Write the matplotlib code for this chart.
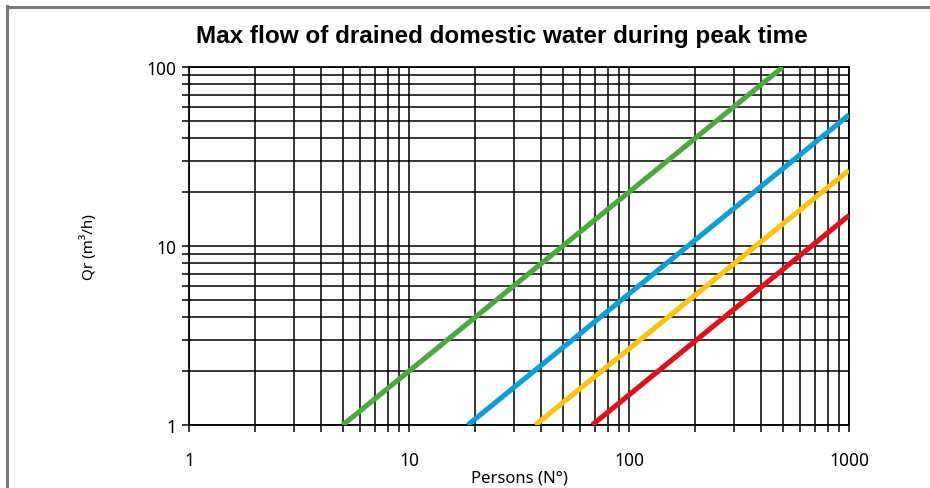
import matplotlib
matplotlib.use("Agg")
import matplotlib.pyplot as plt
from matplotlib.lines import Line2D
from matplotlib.ticker import LogLocator, NullFormatter, FixedLocator

# Line data (start/end points on the log-log grid)
series_names = ["green", "blue", "yellow", "red"]
persons_start = [5, 18.5, 37.5, 68]
persons_end = [500, 1000, 1000, 1000]
flow_start = [1, 1, 1, 1]
flow_end = [100, 54, 26.5, 14.8]
colors = ["#4aab3d", "#0aa0dc", "#ffc20e", "#e2101b"]

x_ticks = [1, 10, 100, 1000]
x_ticklabels = ["1", "10", "100", "1000"]
y_ticks = [1, 10, 100]
y_ticklabels = ["1", "10", "100"]

plt.rcParams['font.family'] = ['Noto Sans', 'DejaVu Sans']

fig = plt.figure(figsize=(9.3, 4.89), dpi=100)
ax = fig.add_axes([189 / 930, 1 - 426 / 489, 660 / 930, 358 / 489])

for i in range(len(series_names)):
    ax.plot([persons_start[i], persons_end[i]], [flow_start[i], flow_end[i]],
            color=colors[i], lw=3.7, solid_capstyle='butt', zorder=3)

ax.set_xscale('log')
ax.set_yscale('log')
ax.set_xlim(1, 1000)
ax.set_ylim(1, 100)

ax.xaxis.set_major_locator(FixedLocator(x_ticks))
ax.set_xticklabels(x_ticklabels)
ax.yaxis.set_major_locator(FixedLocator(y_ticks))
ax.set_yticklabels(y_ticklabels)
ax.xaxis.set_minor_locator(LogLocator(base=10, subs=range(2, 10)))
ax.yaxis.set_minor_locator(LogLocator(base=10, subs=range(2, 10)))
ax.xaxis.set_minor_formatter(NullFormatter())
ax.yaxis.set_minor_formatter(NullFormatter())

ax.grid(True, which='both', color='black', lw=1.1)
ax.tick_params(which='both', direction='out', length=5, width=1.1, color='black')
ax.tick_params(axis='x', which='major', pad=14, labelsize=12.5)
ax.tick_params(axis='y', which='major', pad=4, labelsize=12.5)
for s in ax.spines.values():
    s.set_linewidth(1.3)

ax.set_xlabel("Persons (N°)", fontsize=12, labelpad=0)
ax.set_ylabel("Qr (m³/h)", fontsize=11, labelpad=36)
ax.xaxis.set_label_coords(0.5, -0.125)

fig.text(502 / 930, 1 - 37 / 489, "Max flow of drained domestic water during peak time",
         ha='center', va='center', fontsize=17.5, fontweight='bold',
         family=['Liberation Sans', 'DejaVu Sans'])

# gray frame around the figure (top and left edges visible)
fig.add_artist(Line2D([6.5 / 930, 1], [1 - 8 / 489, 1 - 8 / 489], color='#7a7a7a', lw=2.2,
                      transform=fig.transFigure))
fig.add_artist(Line2D([7 / 930, 7 / 930], [0, 1 - 7 / 489], color='#7a7a7a', lw=2.2,
                      transform=fig.transFigure))

fig.savefig("out.png", dpi=100)
